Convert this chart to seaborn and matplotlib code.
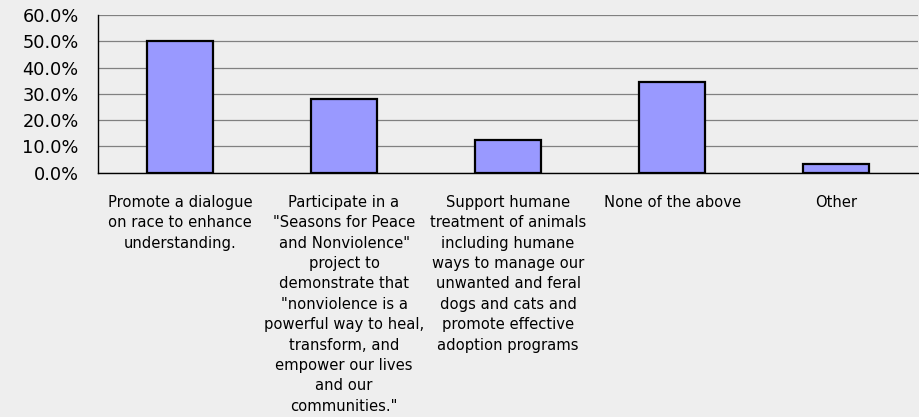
import matplotlib
matplotlib.use("Agg")
import matplotlib.pyplot as plt
import seaborn as sns
import pandas as pd
from matplotlib.ticker import FuncFormatter, FixedLocator

# data
categories = [
    "Promote a dialogue\non race to enhance\nunderstanding.",
    "Participate in a\n\"Seasons for Peace\nand Nonviolence\"\nproject to\ndemonstrate that\n\"nonviolence is a\npowerful way to heal,\ntransform, and\nempower our lives\nand our\ncommunities.\"",
    "Support humane\ntreatment of animals\nincluding humane\nways to manage our\nunwanted and feral\ndogs and cats and\npromote effective\nadoption programs",
    "None of the above",
    "Other",
]
shares = [50.0, 28.1, 12.4, 34.4, 3.1]  # percent

df = pd.DataFrame({"category": categories, "share": shares})

sns.set_style("white")
plt.rcParams["font.family"] = ["DejaVu Sans"]
plt.rcParams["text.color"] = "black"

bg = "#EEEEEE"
fig = plt.figure(figsize=(9.2, 4.17), dpi=100, facecolor=bg)
ax = fig.add_axes([0.1065, 0.5863, 0.8915, 0.3777])
ax.set_facecolor(bg)

sns.barplot(x="category", y="share", data=df, color="#9999FF", width=0.4,
            edgecolor="black", linewidth=1.6, saturation=1, ax=ax, zorder=3)

ax.set_ylim(0, 60)
ax.set_xlim(-0.5, len(categories) - 0.5)
ax.set_yticks(range(0, 61, 10))
ax.yaxis.set_major_formatter(FuncFormatter(lambda v, p: f"{v:.1f}%"))
ax.grid(axis="y", color="#808080", linewidth=0.9, zorder=0)
ax.set_axisbelow(True)

for s in ["top", "right"]:
    ax.spines[s].set_visible(False)
ax.spines["left"].set_color("black")
ax.spines["bottom"].set_color("black")
ax.spines["left"].set_linewidth(1.0)
ax.spines["bottom"].set_linewidth(1.0)
ax.spines["bottom"].set_zorder(4)

# category boundary ticks like Excel
ax.xaxis.set_minor_locator(FixedLocator([i - 0.5 for i in range(len(categories) + 1)]))
ax.tick_params(axis="x", which="minor", length=5, width=1, color="#909090", direction="out")
ax.tick_params(axis="x", which="major", length=0, pad=16, labelsize=10.6, labelcolor="black")
ax.tick_params(axis="y", which="major", length=5, width=1, color="#909090",
               direction="out", labelsize=12.8, pad=9, labelcolor="black")
for lab in ax.get_xticklabels():
    lab.set_multialignment("center")
    lab.set_linespacing(1.45)
    lab.set_verticalalignment("top")

ax.set_xlabel(None)
ax.set_ylabel(None)

plt.savefig("out.png", dpi=100, facecolor=bg)
